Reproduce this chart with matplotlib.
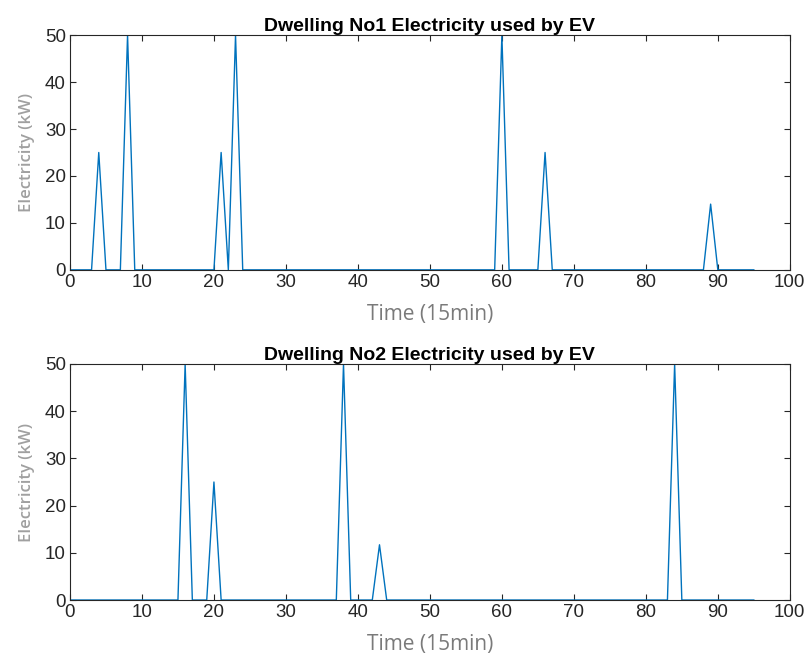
import numpy as np
import matplotlib
matplotlib.use('Agg')
import matplotlib.pyplot as plt

# time slots (15 min each) and EV charging spikes per dwelling
time_slots = np.arange(96)
dw1_idx = [4, 8, 21, 23, 60, 66, 89]
dw1_val = [25, 50, 25, 50, 50, 25, 14]
dw2_idx = [16, 20, 38, 43, 84]
dw2_val = [50, 25, 50, 11.7, 50]
titles = ['Dwelling No1 Electricity used by EV', 'Dwelling No2 Electricity used by EV']

plt.rcParams['font.family'] = ['Liberation Sans', 'DejaVu Sans']

def series(idx, vals):
    y = np.zeros(len(time_slots))
    y[idx] = vals
    return y

data = [series(dw1_idx, dw1_val), series(dw2_idx, dw2_val)]

fig = plt.figure(figsize=(8.07, 6.63), dpi=100)
positions = [[0.0867, 0.593, 0.892, 0.354], [0.0867, 0.095, 0.892, 0.356]]

for pos, y, title in zip(positions, data, titles):
    ax = fig.add_axes(pos)
    ax.plot(time_slots, y, color='#0072BD', linewidth=1.0)
    ax.set_xlim(0, 100)
    ax.set_ylim(0, 50)
    ax.set_xticks(np.arange(0, 101, 10))
    ax.set_yticks(np.arange(0, 51, 10))
    ax.tick_params(direction='in', top=True, right=True, labelsize=13.5,
                   colors='#262626', length=4, width=0.8, pad=3)
    for s in ax.spines.values():
        s.set_color('#262626')
        s.set_linewidth(0.8)
    ax.set_title(title, fontsize=14, fontweight='bold', pad=3)
    ax.set_xlabel('Time (15min)', fontsize=15, color='#7a7a7a', labelpad=9,
                  fontweight='medium', family=['Open Sans', 'DejaVu Sans'])
    ax.set_ylabel('Electricity (kW)', fontsize=12, color='#a0a0a0', labelpad=7,
                  fontweight='semibold', family=['Open Sans', 'DejaVu Sans'])

fig.savefig('out.png', dpi=100)
